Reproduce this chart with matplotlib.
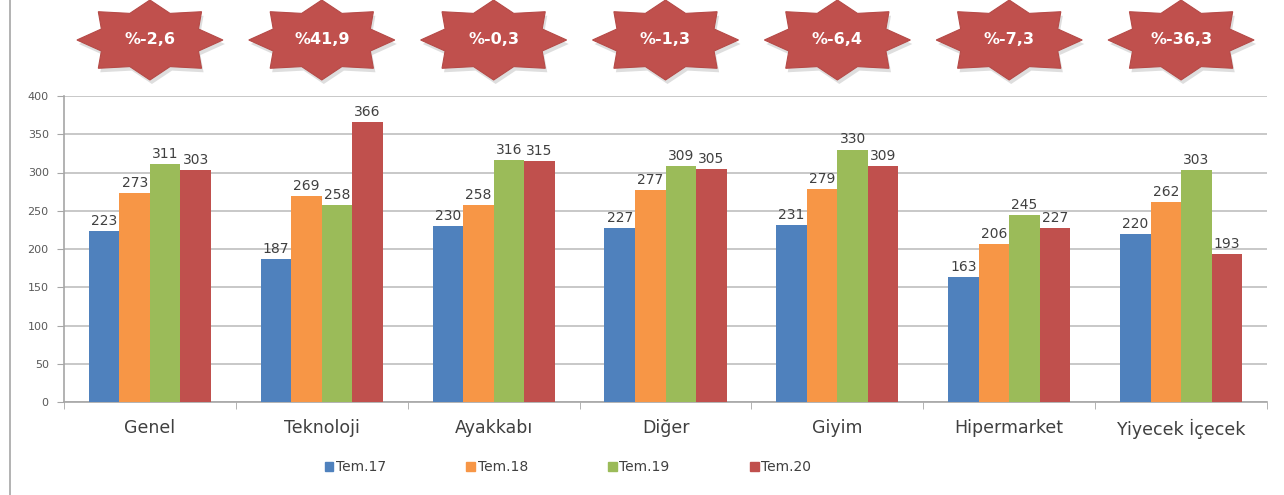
import matplotlib
matplotlib.use("Agg")
import matplotlib.pyplot as plt
import numpy as np
from matplotlib.patches import Polygon
from matplotlib.lines import Line2D

categories = ["Genel", "Teknoloji", "Ayakkabı", "Diğer", "Giyim", "Hipermarket", "Yiyecek İçecek"]
series_names = ["Tem.17", "Tem.18", "Tem.19", "Tem.20"]
tem17 = [223, 187, 230, 227, 231, 163, 220]
tem18 = [273, 269, 258, 277, 279, 206, 262]
tem19 = [311, 258, 316, 309, 330, 245, 303]
tem20 = [303, 366, 315, 305, 309, 227, 193]
badges = ["%-2,6", "%41,9", "%-0,3", "%-1,3", "%-6,4", "%-7,3", "%-36,3"]
yticks = [0, 50, 100, 150, 200, 250, 300, 350, 400]

colors = ["#4F81BD", "#F79646", "#9BBB59", "#C0504D"]
badge_color = "#C0504D"
text_gray = "#404040"

W, H = 1284, 495
fig = plt.figure(figsize=(W / 100, H / 100), dpi=100)
ax = fig.add_axes([64 / W, 1 - 402 / H, (1267 - 64) / W, (402 - 96) / H])

x = np.arange(len(categories))
n = 4
group_w = 0.71
bw = group_w / n
for k, (vals, c) in enumerate(zip([tem17, tem18, tem19, tem20], colors)):
    pos = x - group_w / 2 + bw * (k + 0.5)
    ax.bar(pos, vals, width=bw, color=c, edgecolor="none", zorder=3, label=series_names[k])
    for p, v in zip(pos, vals):
        ax.text(p, v + 4, str(v), ha="center", va="bottom", fontsize=10,
                color=text_gray, zorder=5)

ax.set_xlim(-0.5, len(categories) - 0.5)
ax.set_ylim(0, 400)
ax.set_yticks(yticks)
ax.set_yticklabels([str(t) for t in yticks], fontsize=8, color="#595959")
ax.grid(axis="y", color="#BFBFBF", linewidth=1.2, zorder=0)
ax.set_axisbelow(True)
ax.set_xticks(x)
ax.set_xticklabels(categories, fontsize=12.5, color=text_gray)
ax.tick_params(axis="x", length=0, pad=12)
ax.set_xticks(np.arange(-0.5, len(categories)), minor=True)
ax.tick_params(axis="x", which="minor", length=5, color="#A6A6A6", direction="out")
ax.tick_params(axis="y", length=5, color="#A6A6A6", direction="out", pad=6)
for s in ["top", "right"]:
    ax.spines[s].set_visible(False)
for s in ["left", "bottom"]:
    ax.spines[s].set_color("#A6A6A6")
    ax.spines[s].set_linewidth(1.2)

# legend
fig.legend(handles=[plt.Rectangle((0, 0), 1, 1, color=c) for c in colors],
           labels=series_names, loc="center", bbox_to_anchor=(568 / W, 1 - 467 / H),
           ncol=4, frameon=False, fontsize=10, handlelength=0.6, handleheight=0.6,
           handletextpad=0.2, columnspacing=5.8, labelcolor=text_gray)

# overlay for badges (pixel coordinates)
ov = fig.add_axes([0, 0, 1, 1], zorder=10)
ov.set_xlim(0, W)
ov.set_ylim(H, 0)
ov.axis("off")
ov.patch.set_alpha(0)

fig.canvas.draw()
rx, ry, ratio = 73, 40, 0.72
for i, txt in enumerate(badges):
    cx = ax.transData.transform((x[i], 0))[0]
    cy = 40
    pts = []
    for j in range(16):
        a = np.pi * j / 8
        r = 1.0 if j % 2 == 0 else ratio
        pts.append((cx + rx * r * np.cos(a), cy - ry * r * np.sin(a)))
    pts = np.array(pts)
    ov.add_patch(Polygon(pts + np.array([2, 4]), closed=True, facecolor="#C8C8C8",
                         edgecolor="none", alpha=0.6))
    ov.add_patch(Polygon(pts, closed=True, facecolor=badge_color, edgecolor="#B54A47",
                         linewidth=0.8))
    ov.text(cx, cy, txt, ha="center", va="center", color="white", fontsize=11.5,
            fontweight="bold")

# left border line
ov.add_line(Line2D([10, 10], [0, H], color="#A6A6A6", linewidth=1.2))

fig.savefig("out.png", dpi=100)
